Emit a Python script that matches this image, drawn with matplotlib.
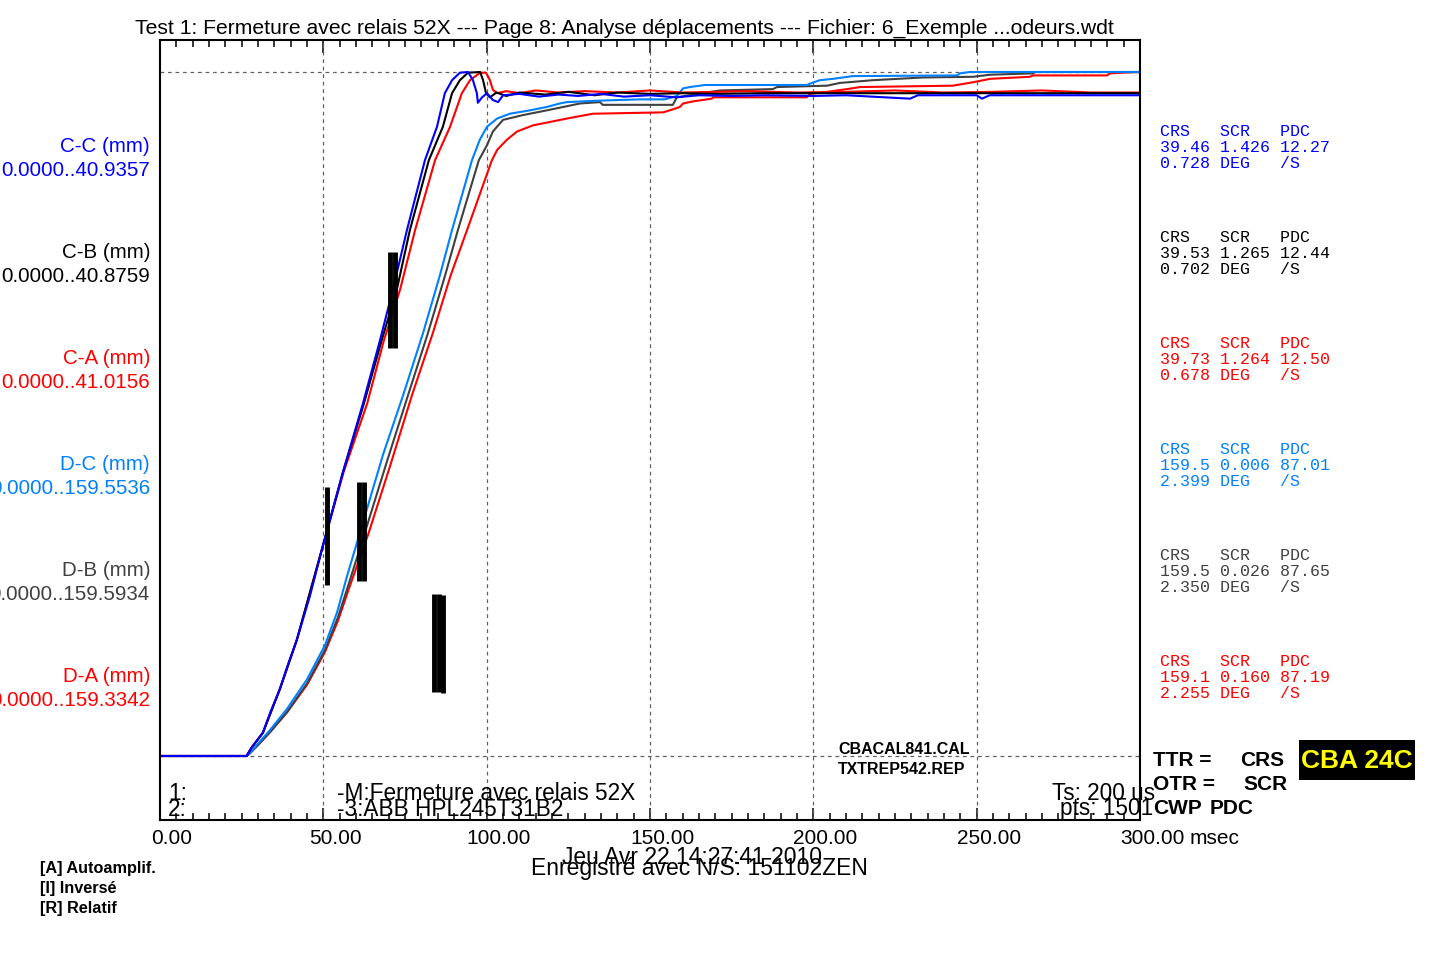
import matplotlib
matplotlib.use('Agg')
import matplotlib.pyplot as plt
import matplotlib.transforms as mtransforms
from matplotlib.patches import Rectangle

plt.rcParams['font.family'] = ['Liberation Sans', 'DejaVu Sans']

W, H = 1440, 960

# time (ms) / normalised displacement
t_cc = [0, 26.5, 28.0, 31.5, 33.7, 36.7, 39.2, 41.9, 45.9, 49.9, 56.0, 62.1, 67.3, 71.3, 75.6, 81.1,
        84.8, 87.2, 89.4, 91.8, 94.3, 95.8, 97.0, 97.3, 98.6, 100.1, 101.9, 103.5, 105.0, 110, 116,
        122, 128, 135, 142, 150, 158, 165, 175, 185, 200, 210, 229.6, 232, 250, 251.6, 254, 280, 300]
y_cc = [0, 0, 0.012, 0.034, 0.063, 0.098, 0.134, 0.170, 0.234, 0.308, 0.415, 0.515, 0.607, 0.682, 0.769,
        0.871, 0.920, 0.969, 0.988, 0.999, 1.0, 0.988, 0.969, 0.955, 0.963, 0.969, 0.959, 0.956, 0.966,
        0.968, 0.964, 0.967, 0.965, 0.968, 0.964, 0.966, 0.963, 0.966, 0.965, 0.966, 0.965, 0.966, 0.961,
        0.966, 0.966, 0.961, 0.966, 0.966, 0.966]

t_cb = [0, 26.5, 28, 31.5, 36.7, 41.9, 49.9, 56.0, 62.4, 67.8, 72.5, 76.5, 82.3, 86.6, 89.4, 91.8,
        94.3, 98.0, 98.9, 99.8, 101.0, 103, 106, 110, 118, 125, 133, 140, 150, 160, 170, 185, 200,
        220, 240, 260, 280, 300]
y_cb = [0, 0, 0.012, 0.034, 0.098, 0.170, 0.308, 0.415, 0.515, 0.607, 0.682, 0.769, 0.871, 0.920,
        0.969, 0.988, 0.999, 1.0, 0.988, 0.969, 0.963, 0.970, 0.965, 0.970, 0.967, 0.971, 0.966, 0.970,
        0.968, 0.969, 0.968, 0.969, 0.969, 0.969, 0.969, 0.969, 0.969, 0.969]

t_ca = [0, 26.5, 28, 31.5, 36.7, 41.9, 49.9, 56.2, 63.4, 68.5, 73.5, 78.1, 84.2, 88.8, 92.4, 94.9,
        98.0, 99.8, 101.0, 101.9, 103.2, 106, 110, 115, 122, 130, 140, 150, 160, 170, 180, 195, 210,
        225, 240, 255, 270, 285, 300]
y_ca = [0, 0, 0.012, 0.034, 0.098, 0.170, 0.308, 0.415, 0.515, 0.607, 0.682, 0.769, 0.871, 0.920,
        0.969, 0.988, 0.999, 0.999, 0.988, 0.974, 0.969, 0.972, 0.969, 0.973, 0.970, 0.972, 0.970,
        0.973, 0.970, 0.971, 0.972, 0.970, 0.971, 0.973, 0.970, 0.971, 0.973, 0.970, 0.970]

t_dc = [0, 26.5, 27.5, 30.0, 33.7, 38.9, 45.0, 50.5, 54.2, 57.2, 62.1, 68.3, 74.4, 80.5, 85.7, 89.4,
        95.5, 97.9, 100.1, 103.2, 107.1, 113.3, 118.5, 122.4, 124.6, 133.8, 146.9, 154.6, 158.2, 160.1,
        162.2, 166.8, 198.0, 199.0, 202.0, 206.0, 212.1, 244.0, 244.9, 247.9, 300]
y_dc = [0, 0, 0.004, 0.018, 0.038, 0.069, 0.112, 0.162, 0.210, 0.262, 0.341, 0.441, 0.527, 0.618,
        0.703, 0.769, 0.871, 0.901, 0.920, 0.932, 0.939, 0.944, 0.949, 0.954, 0.956, 0.958, 0.960,
        0.960, 0.965, 0.976, 0.978, 0.981, 0.981, 0.983, 0.988, 0.990, 0.994, 0.995, 0.998, 1.0, 1.0]

t_db = [0, 26.5, 27.5, 30.0, 33.7, 38.9, 45.0, 50.5, 54.5, 57.8, 63.0, 69.5, 75.9, 82.0, 87.3, 91.2,
        97.6, 100.1, 101.9, 105.0, 111.1, 118.5, 128.6, 134.7, 135.5, 157.0, 158.2, 171.4, 187.6,
        188.9, 204.2, 208.1, 218.2, 233.5, 248.9, 254.1, 267.2, 268.1, 300]
y_db = [0, 0, 0.004, 0.016, 0.035, 0.064, 0.106, 0.155, 0.203, 0.252, 0.331, 0.431, 0.527, 0.618,
        0.703, 0.769, 0.871, 0.893, 0.913, 0.930, 0.937, 0.944, 0.954, 0.956, 0.952, 0.952, 0.963,
        0.973, 0.975, 0.978, 0.980, 0.984, 0.988, 0.992, 0.993, 0.996, 0.998, 1.0, 1.0]

t_da = [0, 26.5, 27.5, 30.0, 33.7, 38.9, 45.0, 50.5, 54.5, 58.0, 63.8, 70.5, 77.1, 83.5, 89.0, 94.0,
        101.6, 103.2, 106.2, 109.3, 114.2, 119.4, 124.6, 132.5, 154.0, 156.1, 159.2, 160.1, 163.1,
        168.9, 169.3, 198.0, 199.0, 204.2, 210.3, 214.3, 242.7, 248.9, 254.1, 266.3, 267.2, 289.9,
        290.8, 294.8, 300]
y_da = [0, 0, 0.004, 0.016, 0.035, 0.064, 0.104, 0.152, 0.198, 0.247, 0.325, 0.425, 0.527, 0.618,
        0.703, 0.769, 0.871, 0.886, 0.901, 0.913, 0.922, 0.927, 0.932, 0.939, 0.941, 0.944, 0.949,
        0.954, 0.957, 0.961, 0.963, 0.963, 0.968, 0.971, 0.975, 0.978, 0.980, 0.985, 0.990, 0.993,
        0.995, 0.995, 0.998, 0.999, 1.0]

# contact timing marks
contact_t = [51.1, 60.9, 62.4, 70.4, 72.0, 83.9, 85.4, 86.6]
contact_lo = [0.250, 0.256, 0.256, 0.596, 0.596, 0.094, 0.094, 0.092]
contact_hi = [0.393, 0.401, 0.401, 0.737, 0.737, 0.237, 0.237, 0.235]

channel_names = ['C-C (mm)', 'C-B (mm)', 'C-A (mm)', 'D-C (mm)', 'D-B (mm)', 'D-A (mm)']
channel_ranges = ['0.0000..40.9357', '0.0000..40.8759', '0.0000..41.0156',
                  '0.0000..159.5536', '0.0000..159.5934', '0.0000..159.3342']
channel_colors = ['#0000ff', '#000000', '#ff0000', '#0080ff', '#404040', '#ff0000']

crs_vals = ['39.46', '39.53', '39.73', '159.5', '159.5', '159.1']
scr_vals = ['1.426', '1.265', '1.264', '0.006', '0.026', '0.160']
pdc_vals = ['12.27', '12.44', '12.50', '87.01', '87.65', '87.19']
deg_vals = ['0.728', '0.702', '0.678', '2.399', '2.350', '2.255']

xtick_vals = [0, 50, 100, 150, 200, 250, 300]
xtick_labels = ['0.00', '50.00', '100.00', '150.00', '200.00', '250.00', '300.00']

fig = plt.figure(figsize=(14.4, 9.6), dpi=100)
ax = fig.add_axes([160 / W, 1 - 820 / H, 980 / W, 780 / H])
ax.set_xlim(0, 300)
ax.set_ylim((756 - 820) / 684, (756 - 40) / 684)


def ftext(x, y, s, **kw):
    fig.text(x / W, 1 - y / H, s, **kw)


grid_kw = dict(color='#606060', lw=0.9, ls=(0, (3, 3)))
for gx in xtick_vals[1:-1]:
    ax.axvline(gx, **grid_kw)
ax.axhline(0, **grid_kw)
ax.axhline(1, **grid_kw)

series = [(t_da, y_da, channel_colors[5]), (t_db, y_db, channel_colors[4]), (t_dc, y_dc, channel_colors[3]),
          (t_ca, y_ca, channel_colors[2]), (t_cb, y_cb, channel_colors[1]), (t_cc, y_cc, channel_colors[0])]
for t, y, c in series:
    ax.plot(t, y, color=c, lw=1.5)

ax.vlines(contact_t, contact_lo, contact_hi, colors='black', lw=3.5)

ax.set_xticks(range(0, 301, 50))
ax.set_xticks(range(0, 301, 5), minor=True)
ax.tick_params(which='both', direction='in', top=True, bottom=True, left=False, right=False,
               labelbottom=False, labelleft=False, width=1.1)
ax.tick_params(which='major', length=9)
ax.tick_params(which='minor', length=5)
ax.set_yticks([])
for sp in ax.spines.values():
    sp.set_linewidth(1.5)

offs = mtransforms.ScaledTranslation(12 / 100, 0, fig.dpi_scale_trans)
tr = ax.get_xaxis_transform() + offs
for v, lab in zip(xtick_vals, xtick_labels):
    ax.text(v, -18 / 780, lab, transform=tr, ha='center', va='center', fontsize=15, clip_on=False)
ftext(1190, 838, 'msec', ha='left', va='center', fontsize=15)

# inside-plot captions (overlapping lines, as in the source printout)
cap = dict(fontsize=16.3, va='center')
ftext(168, 793, '1:', **cap)
ftext(168, 809, '2:', **cap)
ftext(337, 793, '-M:Fermeture avec relais 52X', **cap)
ftext(337, 809, '-3:ABB HPL245T31B2', **cap)
ftext(1052, 793, 'Ts: 200 us', **cap)
ftext(1060, 809, 'pts: 1501', **cap)
ftext(838, 749, 'CBACAL841.CAL', fontsize=11.5, weight='bold', va='center')
ftext(838, 769, 'TXTREP542.REP', fontsize=11.5, weight='bold', va='center')

ftext(624, 28, 'Test 1: Fermeture avec relais 52X --- Page 8: Analyse déplacements --- '
      'Fichier: 6_Exemple ...odeurs.wdt', ha='center', va='center', fontsize=15.2)
ftext(692, 857, 'Jeu Avr 22 14:27:41 2010', ha='center', va='center', fontsize=16.5)
ftext(699, 869, 'Enregistré avec N/S: 151102ZEN', ha='center', va='center', fontsize=16.5)

for i, opt in enumerate(['[A] Autoamplif.', '[I] Inversé', '[R] Relatif']):
    ftext(40, 869 + 20 * i, opt, fontsize=11.7, weight='bold', va='center')

# channel names on the left, stats on the right
for i in range(6):
    y0 = 146 + 106 * i
    c = channel_colors[i]
    ftext(150, y0, channel_names[i], ha='right', va='center', fontsize=14.8, color=c)
    ftext(150, y0 + 24, channel_ranges[i], ha='right', va='center', fontsize=14.8, color=c)
    ry = 132 + 106 * i
    mono = dict(family=['Liberation Mono', 'DejaVu Sans Mono'], fontsize=12, color=c, va='center')
    ftext(1160, ry, 'CRS   SCR   PDC', **mono)
    ftext(1160, ry + 16, f'{crs_vals[i]} {scr_vals[i]} {pdc_vals[i]}', **mono)
    ftext(1160, ry + 32, f'{deg_vals[i]} DEG   /S', **mono)

legend_kw = dict(fontsize=15, weight='bold', va='center')
ftext(1153, 760, 'TTR =', **legend_kw)
ftext(1240, 760, 'CRS', **legend_kw)
ftext(1153, 784, 'OTR =', **legend_kw)
ftext(1243, 784, 'SCR', **legend_kw)
ftext(1153, 808, 'CWP', **legend_kw)
ftext(1210, 808, 'PDC', **legend_kw)

fig.patches.append(Rectangle((1299 / W, 1 - 780 / H), 116 / W, 40 / H, transform=fig.transFigure,
                             facecolor='black', edgecolor='none'))
ftext(1357, 761, 'CBA 24C', ha='center', va='center', fontsize=19, weight='bold', color='#ffff00')

fig.savefig('out.png', dpi=100)
